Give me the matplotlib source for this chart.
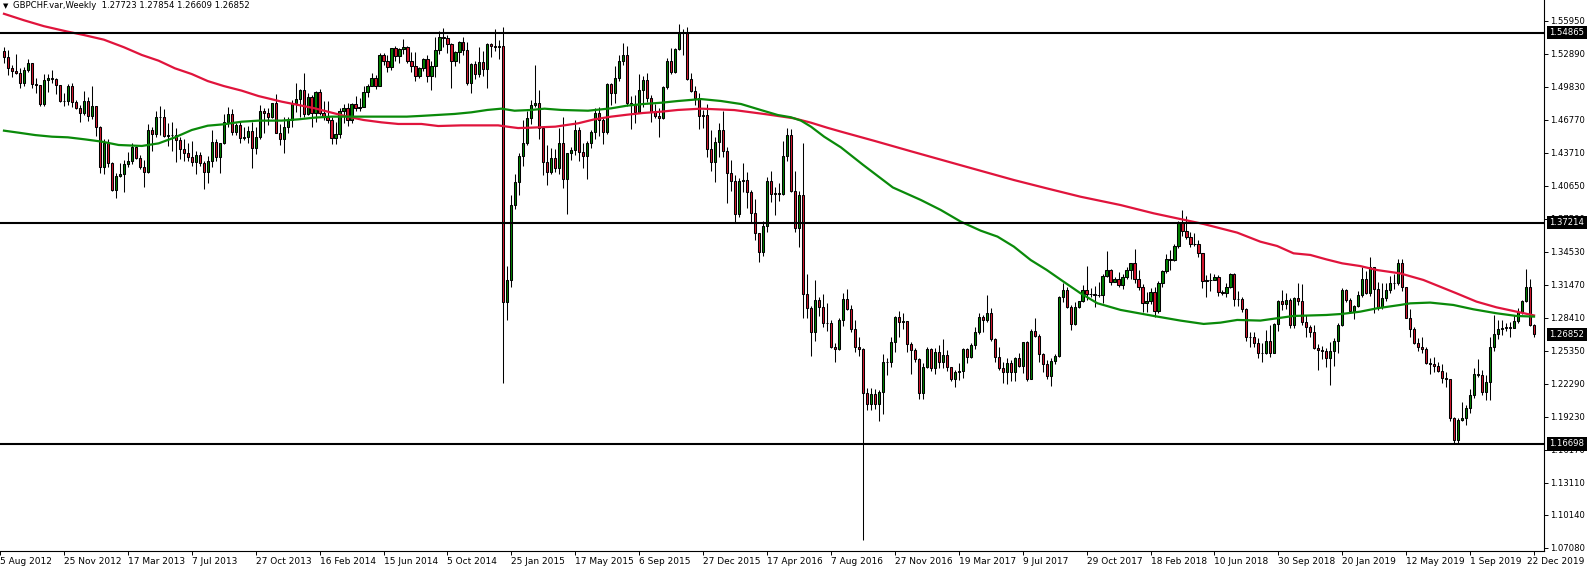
import matplotlib
matplotlib.use("Agg")
import matplotlib.pyplot as plt
import matplotlib.transforms as mtransforms
import numpy as np

# ---------------------------------------------------------------------------
# data: weekly GBPCHF candles (open of each bar = previous close)
# ---------------------------------------------------------------------------

first_open = 1.5315

closes = [
    1.5262, 1.5160, 1.5132, 1.5114, 1.5015, 1.5138, 1.5200,
    1.5006, 1.4996, 1.4826, 1.5046, 1.5061, 1.5052, 1.4996,
    1.4851, 1.4854, 1.4990, 1.4838, 1.4783, 1.4737, 1.4851,
    1.4715, 1.4805, 1.4607, 1.4242, 1.4458, 1.4273, 1.4028,
    1.4155, 1.4174, 1.4267, 1.4294, 1.4427, 1.4319, 1.4236,
    1.4196, 1.4582, 1.4545, 1.4706, 1.4700, 1.4530, 1.4533,
    1.4536, 1.4490, 1.4403, 1.4366, 1.4335, 1.4289, 1.4351,
    1.4273, 1.4190, 1.4295, 1.4468, 1.4335, 1.4458, 1.4659,
    1.4727, 1.4567, 1.4629, 1.4505, 1.4514, 1.4573, 1.4418,
    1.4520, 1.4758, 1.4737, 1.4706, 1.4829, 1.4551, 1.4496,
    1.4607, 1.4675, 1.4835, 1.4870, 1.4953, 1.4727, 1.4885,
    1.4737, 1.4931, 1.4743, 1.4706, 1.4675, 1.4505, 1.4542,
    1.4758, 1.4783, 1.4675, 1.4820, 1.4783, 1.4792, 1.4931,
    1.4993, 1.5061, 1.4993, 1.5278, 1.5225, 1.5163, 1.5339,
    1.5268, 1.5330, 1.5349, 1.5225, 1.5179, 1.5086, 1.5154,
    1.5237, 1.5086, 1.5176, 1.5324, 1.5441, 1.5432, 1.5376,
    1.5225, 1.5302, 1.5395, 1.5324, 1.5015, 1.5194, 1.5098,
    1.5216, 1.5145, 1.5380, 1.5361, 1.5355, 1.5358, 1.2982,
    1.3192, 1.3887, 1.4097, 1.4344, 1.4459, 1.4690, 1.4814,
    1.4829, 1.4598, 1.4289, 1.4196, 1.4320, 1.4227, 1.4459,
    1.4125, 1.4366, 1.4397, 1.4582, 1.4375, 1.4344, 1.4459,
    1.4561, 1.4737, 1.4675, 1.4567, 1.5006, 1.4928, 1.5061,
    1.5222, 1.5278, 1.4829, 1.4823, 1.4752, 1.4953, 1.5046,
    1.4876, 1.4752, 1.4715, 1.4697, 1.4984, 1.5222, 1.5123,
    1.5330, 1.5485, 1.5478, 1.5052, 1.4944, 1.4876, 1.4715,
    1.4718, 1.4403, 1.4282, 1.4468, 1.4582, 1.4391, 1.4187,
    1.4112, 1.3800, 1.4112, 1.4116, 1.4011, 1.3810, 1.3624,
    1.3454, 1.3692, 1.4112, 1.3986, 1.3995, 1.3986, 1.4344,
    1.4536, 1.4020, 1.3671, 1.3980, 1.3059, 1.2929, 1.2707,
    1.3006, 1.2944, 1.2790, 1.2796, 1.2567, 1.2549, 1.2815,
    1.3012, 1.2919, 1.2734, 1.2567, 1.2549, 1.2141, 1.2039,
    1.2132, 1.2039, 1.2150, 1.2428, 1.2434, 1.2620, 1.2845,
    1.2805, 1.2808, 1.2595, 1.2543, 1.2456, 1.2141, 1.2388,
    1.2549, 1.2373, 1.2521, 1.2434, 1.2496, 1.2382, 1.2271,
    1.2336, 1.2342, 1.2549, 1.2475, 1.2589, 1.2712, 1.2845,
    1.2820, 1.2882, 1.2641, 1.2474, 1.2372, 1.2335, 1.2418,
    1.2335, 1.2465, 1.2397, 1.2613, 1.2270, 1.2721, 1.2675,
    1.2505, 1.2412, 1.2304, 1.2440, 1.2486, 1.3030, 1.3098,
    1.2944, 1.2780, 1.2938, 1.2996, 1.3098, 1.3058, 1.3061,
    1.3049, 1.3049, 1.3231, 1.3284, 1.3176, 1.3200, 1.3145,
    1.3216, 1.3284, 1.3346, 1.3197, 1.3123, 1.2975, 1.2996,
    1.3077, 1.2907, 1.3160, 1.3274, 1.3386, 1.3380, 1.3506,
    1.3716, 1.3648, 1.3587, 1.3522, 1.3522, 1.3438, 1.3185,
    1.3188, 1.3194, 1.3222, 1.3083, 1.3067, 1.3129, 1.3244,
    1.3012, 1.3015, 1.2919, 1.2666, 1.2666, 1.2610, 1.2511,
    1.2514, 1.2625, 1.2517, 1.2780, 1.2996, 1.2965, 1.3005,
    1.2774, 1.3021, 1.2999, 1.2805, 1.2758, 1.2712, 1.2557,
    1.2542, 1.2536, 1.2465, 1.2533, 1.2625, 1.2774, 1.3098,
    1.3005, 1.2907, 1.2950, 1.3052, 1.3197, 1.3067, 1.3308,
    1.3104, 1.2937, 1.3021, 1.3098, 1.3160, 1.3160, 1.3345,
    1.3123, 1.2842, 1.2733, 1.2610, 1.2573, 1.2551, 1.2418,
    1.2415, 1.2397, 1.2350, 1.2279, 1.2270, 1.1915, 1.1705,
    1.1893, 1.1908, 1.2007, 1.2125, 1.2320, 1.2310, 1.2156,
    1.2242, 1.2573, 1.2687, 1.2736, 1.2746, 1.2752, 1.2743,
    1.2811, 1.2897, 1.2996, 1.3129, 1.2772, 1.26852,
]

highs = [
    1.5355, 1.5324, 1.5185, 1.5287, 1.5154, 1.5169, 1.5237,
    1.5206, 1.5061, 1.4999, 1.5098, 1.5101, 1.5138, 1.5061,
    1.4999, 1.4922, 1.5008, 1.5015, 1.4860, 1.4814, 1.4944,
    1.4891, 1.4993, 1.4807, 1.4619, 1.4498, 1.4498, 1.4282,
    1.4186, 1.4273, 1.4304, 1.4378, 1.4458, 1.4434, 1.4350,
    1.4304, 1.4638, 1.4613, 1.4762, 1.4805, 1.4777, 1.4644,
    1.4656, 1.4598, 1.4521, 1.4502, 1.4458, 1.4483, 1.4391,
    1.4375, 1.4295, 1.4341, 1.4582, 1.4498, 1.4465, 1.4727,
    1.4798, 1.4774, 1.4644, 1.4669, 1.4607, 1.4619, 1.4659,
    1.4613, 1.4814, 1.4783, 1.4783, 1.4829, 1.4916, 1.4638,
    1.4700, 1.4706, 1.4860, 1.5021, 1.4962, 1.5114, 1.4928,
    1.4907, 1.4947, 1.4962, 1.4854, 1.4851, 1.4700, 1.4659,
    1.4783, 1.4823, 1.4829, 1.4829, 1.4897, 1.4876, 1.4990,
    1.5009, 1.5114, 1.5092, 1.5293, 1.5293, 1.5278, 1.5346,
    1.5361, 1.5339, 1.5423, 1.5361, 1.5308, 1.5308, 1.5169,
    1.5247, 1.5278, 1.5222, 1.5441, 1.5500, 1.5525, 1.5463,
    1.5386, 1.5315, 1.5407, 1.5441, 1.5395, 1.5206, 1.5222,
    1.5349, 1.5315, 1.5392, 1.5392, 1.5515, 1.5417, 1.5540,
    1.3322, 1.3980, 1.4174, 1.4372, 1.4675, 1.4762, 1.4860,
    1.5185, 1.4953, 1.4607, 1.4443, 1.4412, 1.4406, 1.4604,
    1.4700, 1.4372, 1.4428, 1.4675, 1.4613, 1.4459, 1.4480,
    1.4582, 1.4783, 1.4792, 1.4706, 1.5021, 1.5015, 1.5179,
    1.5278, 1.5392, 1.5361, 1.4897, 1.4907, 1.5098, 1.5083,
    1.5114, 1.4907, 1.4820, 1.4783, 1.4990, 1.5247, 1.5339,
    1.5339, 1.5565, 1.5515, 1.5534, 1.5108, 1.4990, 1.4922,
    1.4767, 1.4823, 1.4582, 1.4520, 1.4644, 1.4761, 1.4421,
    1.4304, 1.4165, 1.4134, 1.4273, 1.4190, 1.4026, 1.3942,
    1.3630, 1.3742, 1.4143, 1.4202, 1.4057, 1.4088, 1.4480,
    1.4598, 1.4588, 1.4202, 1.4017, 1.4458, 1.3247, 1.2951,
    1.3192, 1.3031, 1.3062, 1.2975, 1.2821, 1.2604, 1.2836,
    1.3068, 1.3105, 1.2960, 1.2821, 1.2666, 1.2558, 1.2187,
    1.2187, 1.2181, 1.2172, 1.2505, 1.2465, 1.2666, 1.2861,
    1.2904, 1.2882, 1.2814, 1.2620, 1.2558, 1.2465, 1.2419,
    1.2573, 1.2558, 1.2564, 1.2583, 1.2641, 1.2543, 1.2388,
    1.2357, 1.2425, 1.2558, 1.2558, 1.2604, 1.2759, 1.2882,
    1.2867, 1.3052, 1.2935, 1.2650, 1.2573, 1.2434, 1.2465,
    1.2449, 1.2480, 1.2511, 1.2619, 1.2626, 1.2734, 1.2836,
    1.2690, 1.2511, 1.2449, 1.2465, 1.2505, 1.3046, 1.3166,
    1.3129, 1.2959, 1.2990, 1.2999, 1.3145, 1.3321, 1.3114,
    1.3135, 1.3175, 1.3247, 1.3460, 1.3290, 1.3222, 1.3268,
    1.3247, 1.3308, 1.3352, 1.3478, 1.3284, 1.3154, 1.3077,
    1.3114, 1.3129, 1.3185, 1.3284, 1.3432, 1.3469, 1.3522,
    1.3741, 1.3840, 1.3784, 1.3639, 1.3630, 1.3562, 1.3444,
    1.3237, 1.3253, 1.3247, 1.3237, 1.3098, 1.3160, 1.3253,
    1.3253, 1.3089, 1.3036, 1.2928, 1.2712, 1.2712, 1.2650,
    1.2610, 1.2727, 1.2774, 1.2789, 1.3005, 1.3098, 1.3067,
    1.3021, 1.3030, 1.3160, 1.3154, 1.2866, 1.2774, 1.2774,
    1.2598, 1.2579, 1.2564, 1.2619, 1.2650, 1.2789, 1.3113,
    1.3104, 1.3021, 1.2959, 1.3089, 1.3314, 1.3277, 1.3401,
    1.3314, 1.3175, 1.3166, 1.3160, 1.3228, 1.3246, 1.3382,
    1.3385, 1.3129, 1.2919, 1.2752, 1.2650, 1.2659, 1.2567,
    1.2465, 1.2474, 1.2434, 1.2412, 1.2341, 1.2276, 1.1924,
    1.1908, 1.2063, 1.2032, 1.2177, 1.2372, 1.2455, 1.2356,
    1.2310, 1.2665, 1.2866, 1.2820, 1.2820, 1.2789, 1.2804,
    1.2866, 1.2928, 1.3005, 1.3290, 1.3202, 1.27854,
]

lows = [
    1.5206, 1.5092, 1.5077, 1.5098, 1.4975, 1.4993, 1.5117,
    1.4975, 1.4928, 1.4808, 1.4808, 1.4937, 1.5015, 1.4913,
    1.4841, 1.4808, 1.4811, 1.4792, 1.4777, 1.4653, 1.4718,
    1.4669, 1.4684, 1.4529, 1.4180, 1.4171, 1.4242, 1.4019,
    1.3948, 1.4146, 1.4010, 1.4242, 1.4267, 1.4310, 1.4220,
    1.4057, 1.4181, 1.4391, 1.4514, 1.4536, 1.4514, 1.4434,
    1.4391, 1.4289, 1.4310, 1.4295, 1.4295, 1.4252, 1.4171,
    1.4249, 1.4032, 1.4094, 1.4242, 1.4298, 1.4181, 1.4452,
    1.4613, 1.4536, 1.4536, 1.4458, 1.4490, 1.4465, 1.4227,
    1.4357, 1.4502, 1.4551, 1.4629, 1.4697, 1.4551, 1.4443,
    1.4366, 1.4551, 1.4607, 1.4752, 1.4706, 1.4706, 1.4721,
    1.4613, 1.4659, 1.4721, 1.4675, 1.4644, 1.4452, 1.4452,
    1.4505, 1.4644, 1.4622, 1.4644, 1.4758, 1.4761, 1.4792,
    1.4885, 1.4990, 1.4959, 1.4990, 1.5185, 1.5123, 1.5138,
    1.5225, 1.5200, 1.5287, 1.5200, 1.5123, 1.5040, 1.5061,
    1.5129, 1.5030, 1.4953, 1.5077, 1.5287, 1.5355, 1.5299,
    1.4975, 1.5176, 1.5206, 1.5278, 1.4999, 1.4928, 1.5055,
    1.5071, 1.5086, 1.4975, 1.5262, 1.5318, 1.5237, 1.2234,
    1.2815, 1.3130, 1.3850, 1.3980, 1.4252, 1.4443, 1.4638,
    1.4792, 1.4499, 1.4165, 1.4072, 1.4174, 1.4190, 1.4174,
    1.4048, 1.3801, 1.4304, 1.4351, 1.4295, 1.4233, 1.4125,
    1.4412, 1.4499, 1.4530, 1.4449, 1.4542, 1.4814, 1.4829,
    1.5037, 1.5185, 1.4808, 1.4589, 1.4644, 1.4737, 1.4799,
    1.4845, 1.4659, 1.4697, 1.4521, 1.4684, 1.4962, 1.5098,
    1.5108, 1.5324, 1.5278, 1.5046, 1.4938, 1.4814, 1.4589,
    1.4598, 1.4335, 1.4205, 1.4103, 1.4335, 1.4329, 1.3908,
    1.4020, 1.3717, 1.3779, 1.4011, 1.3862, 1.3717, 1.3562,
    1.3355, 1.3417, 1.3640, 1.3918, 1.3794, 1.3927, 1.3980,
    1.4298, 1.4011, 1.3640, 1.3501, 1.2842, 1.2836, 1.2490,
    1.2629, 1.2858, 1.2750, 1.2713, 1.2558, 1.2428, 1.2543,
    1.2765, 1.2913, 1.2712, 1.2527, 1.2481, 1.0780, 1.1980,
    1.1980, 1.1993, 1.1878, 1.1946, 1.2311, 1.2379, 1.2527,
    1.2660, 1.2734, 1.2527, 1.2320, 1.2434, 1.2085, 1.2088,
    1.2373, 1.2351, 1.2320, 1.2373, 1.2373, 1.2342, 1.2249,
    1.2196, 1.2264, 1.2286, 1.2419, 1.2465, 1.2552, 1.2688,
    1.2712, 1.2805, 1.2629, 1.2434, 1.2357, 1.2233, 1.2227,
    1.2249, 1.2255, 1.2388, 1.2326, 1.2258, 1.2270, 1.2666,
    1.2434, 1.2335, 1.2270, 1.2208, 1.2412, 1.2480, 1.2990,
    1.2928, 1.2727, 1.2774, 1.2928, 1.2990, 1.3006, 1.3030,
    1.2938, 1.3036, 1.2975, 1.3216, 1.3145, 1.3176, 1.3123,
    1.3108, 1.3197, 1.3197, 1.3160, 1.3098, 1.2897, 1.2897,
    1.2965, 1.2851, 1.2882, 1.3129, 1.3253, 1.3284, 1.3367,
    1.3485, 1.3602, 1.3571, 1.3494, 1.3506, 1.3401, 1.3120,
    1.3036, 1.3092, 1.3191, 1.3046, 1.3052, 1.3036, 1.3114,
    1.2953, 1.2953, 1.2897, 1.2629, 1.2573, 1.2573, 1.2471,
    1.2434, 1.2502, 1.2480, 1.2511, 1.2721, 1.2913, 1.2919,
    1.2743, 1.2743, 1.2959, 1.2774, 1.2666, 1.2666, 1.2548,
    1.2356, 1.2455, 1.2387, 1.2217, 1.2397, 1.2511, 1.2764,
    1.2990, 1.2882, 1.2829, 1.2937, 1.3030, 1.3061, 1.3042,
    1.2882, 1.2913, 1.2919, 1.2999, 1.3073, 1.3107, 1.3144,
    1.3092, 1.2836, 1.2659, 1.2598, 1.2536, 1.2517, 1.2409,
    1.2316, 1.2341, 1.2335, 1.2233, 1.2202, 1.1884, 1.1668,
    1.1672, 1.1887, 1.1847, 1.1955, 1.2094, 1.2295, 1.2125,
    1.2078, 1.2078, 1.2536, 1.2641, 1.2681, 1.2718, 1.2659,
    1.2752, 1.2789, 1.2876, 1.2990, 1.2760, 1.26609,
]

# moving averages at these bar positions
red_ma_bar = [0, 5, 10, 16, 20, 25, 30, 34.5, 38.7, 42.8, 47, 51, 55, 59.5,
              63.7, 69.5, 73.7, 77.8, 82, 86, 90, 94.5, 98.7, 104.5, 108.7,
              114.5, 123.7, 126, 128.7, 132, 138, 143.7, 147.8, 152, 156, 160,
              164.5, 168.7, 174.5, 182.8, 191, 197.8, 202, 206, 209.5, 218,
              227, 240, 252.8, 261, 269.5, 279.5, 287.8, 294.5, 300.3, 304.5,
              308.7, 314.5, 318.7, 322.8, 327, 331, 335, 339.5, 343.7, 349.5,
              355.3, 363.6, 368.6, 373.6, 378.6, 383]
red_ma_val = [1.5660, 1.5600, 1.5545, 1.5494, 1.5463, 1.5420, 1.5350, 1.5278,
              1.5225, 1.5154, 1.5101, 1.5036, 1.4990, 1.4947, 1.4897, 1.4845,
              1.4814, 1.4783, 1.4743, 1.4706, 1.4675, 1.4653, 1.4638, 1.4638,
              1.4619, 1.4625, 1.4625, 1.4613, 1.4600, 1.4604, 1.4613, 1.4644,
              1.4681, 1.4706, 1.4724, 1.4740, 1.4752, 1.4768, 1.4780, 1.4767,
              1.4727, 1.4690, 1.4650, 1.4604, 1.4567, 1.4480, 1.4385, 1.4250,
              1.4118, 1.4041, 1.3963, 1.3886, 1.3809, 1.3756, 1.3710, 1.3670,
              1.3630, 1.3546, 1.3506, 1.3438, 1.3423, 1.3382, 1.3345, 1.3320,
              1.3283, 1.3252, 1.3191, 1.3067, 1.2990, 1.2937, 1.2897, 1.2862]

green_ma_bar = [0, 3.7, 7.8, 12, 16, 20.3, 24.5, 28.7, 34.5, 38.7, 42.8, 47,
                51, 55, 59.5, 63.7, 69.5, 73.7, 77.8, 82, 90, 100.8, 104.5,
                112.8, 117, 121, 124.5, 127.8, 132, 135.3, 139.5, 146.2, 152,
                156, 160, 164.5, 168.7, 174.5, 179.5, 184.5, 189.5, 193.7, 197,
                199.5, 202, 205.3, 209.5, 215, 222.5, 229.5, 234.5, 239.5,
                244.5, 248.7, 252.8, 257, 261, 265.2, 269.5, 273.7, 279.5,
                287.8, 294.5, 300.3, 304.5, 308.7, 314.5, 322.8, 331, 335,
                339.5, 343.7, 349.5, 352, 357, 362.8, 367.8, 373.6, 378.6, 383]
green_ma_val = [1.4576, 1.4557, 1.4535, 1.4520, 1.4514, 1.4495, 1.4474, 1.4443,
                1.4434, 1.4458, 1.4514, 1.4582, 1.4622, 1.4635, 1.4659, 1.4669,
                1.4669, 1.4681, 1.4697, 1.4706, 1.4706, 1.4706, 1.4713, 1.4731,
                1.4746, 1.4768, 1.4780, 1.4761, 1.4768, 1.4780, 1.4768, 1.4761,
                1.4783, 1.4808, 1.4823, 1.4835, 1.4851, 1.4869, 1.4851, 1.4823,
                1.4767, 1.4721, 1.4700, 1.4669, 1.4613, 1.4520, 1.4421, 1.4260,
                1.4049, 1.3933, 1.3840, 1.3732, 1.3648, 1.3593, 1.3500, 1.3376,
                1.3284, 1.3176, 1.3067, 1.2975, 1.2913, 1.2857, 1.2814, 1.2783,
                1.2795, 1.2820, 1.2814, 1.2857, 1.2866, 1.2876, 1.2897, 1.2928,
                1.2959, 1.2974, 1.2981, 1.2959, 1.2919, 1.2882, 1.2857, 1.2851]

levels = [1.54865, 1.37214, 1.16698]
last_price = 1.26852

price_ticks = [1.55950, 1.52890, 1.49830, 1.46770, 1.43710, 1.40650, 1.37590,
               1.34530, 1.31470, 1.28410, 1.25350, 1.22290, 1.19230, 1.16170,
               1.13110, 1.10140, 1.07080]

date_labels = ["5 Aug 2012", "25 Nov 2012", "17 Mar 2013", "7 Jul 2013",
               "27 Oct 2013", "16 Feb 2014", "15 Jun 2014", "5 Oct 2014",
               "25 Jan 2015", "17 May 2015", "6 Sep 2015", "27 Dec 2015",
               "17 Apr 2016", "7 Aug 2016", "27 Nov 2016", "19 Mar 2017",
               "9 Jul 2017", "29 Oct 2017", "18 Feb 2018", "10 Jun 2018",
               "30 Sep 2018", "20 Jan 2019", "12 May 2019", "1 Sep 2019",
               "22 Dec 2019"]
bars_per_label = 16

title = "GBPCHF.var,Weekly  1.27723 1.27854 1.26609 1.26852"

UP = "#008000"
DOWN = "#D3162E"
MA_RED = "#E0143C"
MA_GREEN = "#0A8A0A"
FONT = 6.5
PRICE_FONT = 6.1

# ---------------------------------------------------------------------------
# figure
# ---------------------------------------------------------------------------

W, H = 1589, 570
fig = plt.figure(figsize=(W / 100, H / 100), dpi=100)
ax = fig.add_axes([0, 19 / H, 1544 / W, 551 / H])

c = np.asarray(closes)
o = np.r_[first_open, c[:-1]]
hi = np.maximum(np.asarray(highs), np.maximum(o, c))
lo = np.minimum(np.asarray(lows), np.minimum(o, c))
n = len(c)
x = np.arange(n)
up = c >= o

ax.vlines(x, lo, hi, color="black", linewidth=0.75, zorder=2)
ax.bar(x, c - o, bottom=o, width=0.55,
       color=np.where(up, UP, DOWN), edgecolor="black", linewidth=0.75,
       zorder=3)

ax.plot(red_ma_bar, red_ma_val, color=MA_RED, linewidth=1.6, zorder=4)
ax.plot(green_ma_bar, green_ma_val, color=MA_GREEN, linewidth=1.6, zorder=4)

for lv in levels:
    ax.axhline(lv, color="black", linewidth=1.5, zorder=5)

ax.set_xlim(-0.5, 385.5)
ax.set_ylim(1.06766, 1.57880)

# frame: only right and bottom edges like the terminal window
for side in ("left", "top"):
    ax.spines[side].set_visible(False)
for side in ("right", "bottom"):
    ax.spines[side].set_linewidth(0.8)

# price axis on the right
ax.yaxis.tick_right()
ax.set_yticks(price_ticks)
ax.set_yticklabels([f"{v:.5f}" for v in price_ticks])
ax.tick_params(axis="y", direction="out", length=3, width=0.7,
               labelsize=PRICE_FONT, pad=1.5)

# date axis: a label every 16 bars, counted back from the last bar
tick_pos = [n - 1 - bars_per_label * (len(date_labels) - 1 - k)
            for k in range(len(date_labels))]
ax.set_xticks(tick_pos)
ax.set_xticklabels(date_labels)
ax.tick_params(axis="x", direction="out", length=3, width=0.7,
               labelsize=FONT, pad=1.0)
xlabels = ax.get_xticklabels()
for lbl in xlabels:
    lbl.set_horizontalalignment("left")
# keep the last date inside the window
shift = mtransforms.ScaledTranslation(-5 / 72, 0, fig.dpi_scale_trans)
xlabels[-1].set_transform(xlabels[-1].get_transform() + shift)

# highlighted price labels (levels and current bid)
for lv in levels + [last_price]:
    ax.annotate(f"{lv:.5f}", xy=(1, lv), xycoords=("axes fraction", "data"),
                xytext=(4, 0), textcoords="offset points",
                ha="left", va="center", color="white", fontsize=PRICE_FONT,
                bbox=dict(boxstyle="square,pad=0.25", fc="black", ec="none"),
                annotation_clip=False, zorder=10)

fig.text(3 / W, 1 - 6 / H, "\u25BC", fontsize=5, va="center", ha="left")
fig.text(13 / W, 1 - 6 / H, title, fontsize=PRICE_FONT, va="center", ha="left")

fig.savefig("out.png", dpi=100)
plt.close(fig)
